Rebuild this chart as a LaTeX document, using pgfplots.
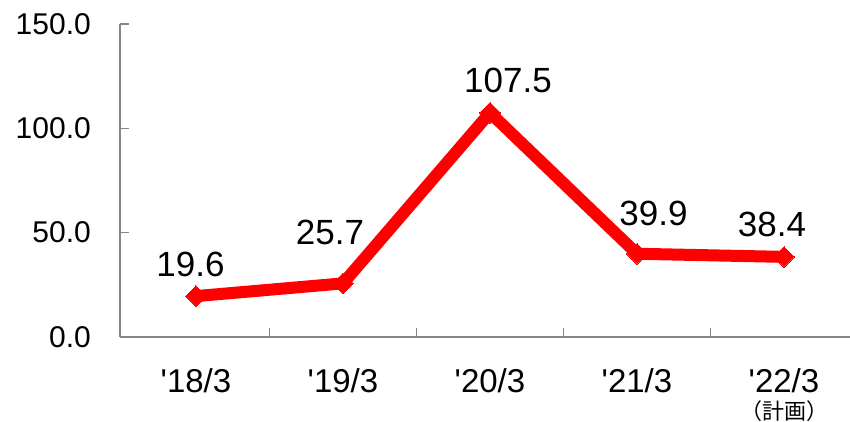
\documentclass[border=0pt]{standalone}
\usepackage{fontspec}
\setmainfont{Liberation Sans}[Ligatures=TeXOff]
\newfontfamily\cjk{Noto Sans CJK JP}
\usepackage{pgfplots}
\pgfplotsset{compat=1.18}
\usepackage{pgfplotstable}
\usetikzlibrary{calc}
\definecolor{axisgray}{RGB}{134,134,134}

\pgfplotstableread{
x y dx dy
0 19.6 -5.5 19
1 25.7 -13 39
2 107.5 18 20
3 39.9 16.5 28
4 38.4 -12 20
}\datatable

\begin{document}
\begin{tikzpicture}
\begin{axis}[
  name=ax, at={(0,0)}, anchor=south west,
  scale only axis, width=730pt, height=313pt,
  xmin=-0.517, xmax=4.449, ymin=0, ymax=150,
  clip=false,
  axis x line*=bottom, axis y line*=left,
  axis line style={draw=axisgray, line width=1.5pt},
  /pgf/number format/assume math mode=true,
  ytick={0,50,100,150},
  yticklabel style={/pgf/number format/.cd, fixed, fixed zerofill, precision=1, /tikz/.cd,
    anchor=east, inner sep=0pt, xshift=-29pt, font=\fontsize{30}{30}\selectfont},
  tick align=inside, major tick length=9pt,
  tick style={draw=axisgray, line width=1.5pt},
  xtick={0.5,1.5,2.5,3.5},
  xticklabels={},
  extra x ticks={0,1,2,3,4},
  extra x tick labels={{'18/3},{'19/3},{'20/3},{'21/3},{'22/3\\[0pt]{\cjk\fontsize{22}{22}\selectfont （計画）}}},
  extra x tick style={major tick length=0pt, tick style={draw=none},
    xticklabel style={anchor=north, inner sep=0pt, yshift=-31pt, align=center, font=\fontsize{33}{27}\selectfont}},
  point meta=y,
  nodes near coords={\pgfmathprintnumber[fixed, fixed zerofill, precision=1]{\pgfplotspointmeta}},
  visualization depends on={\thisrow{dx}\as\dx},
  visualization depends on={\thisrow{dy}\as\dy},
  every node near coord/.append style={anchor=south, inner sep=0pt, xshift=\dx pt, yshift=\dy pt,
    font=\fontsize{35}{35}\selectfont, text=black},
]
\addplot[red, line width=12pt, mark=square*, mark size=7.3pt,
  mark options={rotate=45, solid, fill=red, draw=red, line width=0pt}]
  table[x=x, y=y] {\datatable};
\end{axis}
\pgfresetboundingbox
\path[use as bounding box] ($(ax.south west)+(-120pt,-84pt)$) rectangle ($(ax.north east)+(0pt,24pt)$);
\end{tikzpicture}
\end{document}
